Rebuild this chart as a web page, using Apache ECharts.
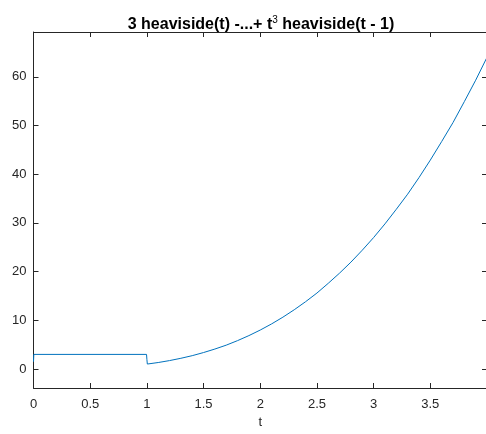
<!DOCTYPE html>
<html>
<head>
<meta charset="utf-8">
<script src="https://cdn.jsdelivr.net/npm/echarts@6/dist/echarts.min.js"></script>
<style>html,body{margin:0;padding:0;background:#fff;overflow:hidden;width:486px;height:434px}#c{width:490px;height:434px}</style>
</head>
<body>
<div id="c"></div>
<script>
var tValues = [0, 0.003, 0.997, 1.0, 1.004, 1.1, 1.2, 1.3, 1.4, 1.5, 1.6, 1.7, 1.8, 1.9, 2.0, 2.1, 2.2, 2.3, 2.4, 2.5, 2.6, 2.7, 2.8, 2.9, 3.0, 3.1, 3.2, 3.3, 3.4, 3.5, 3.6, 3.7, 3.8, 3.9, 4.0];
var fValues = [1.5, 3, 3, 2, 1.02, 1.33, 1.73, 2.2, 2.74, 3.38, 4.1, 4.9, 5.83, 6.86, 8, 9.26, 10.65, 12.17, 13.82, 15.6, 17.6, 19.7, 21.95, 24.4, 27, 29.8, 32.8, 35.9, 39.3, 42.9, 46.7, 50.6, 54.9, 59.3, 64];
var xTickLabels = ['0', '0.5', '1', '1.5', '2', '2.5', '3', '3.5'];
var yTickLabels = ['0', '10', '20', '30', '40', '50', '60'];

var data = tValues.map(function (t, i) { return [t, fValues[i]]; });
var axisColor = '#262626';
var font = 'Liberation Sans, Arial, Helvetica, sans-serif';
var yTicks = [0, 10, 20, 30, 40, 50, 60];

var chart = echarts.init(document.getElementById('c'));
chart.setOption({
  animation: false,
  title: {
    text: '3 heaviside(t) -...+ t{sup|3} heaviside(t - 1)',
    left: 256, top: 10, textAlign: 'center',
    textStyle: {
      fontFamily: font, fontSize: 16, fontWeight: 'bold', color: '#000',
      rich: { sup: { fontFamily: font, fontSize: 10, fontWeight: 'normal', color: '#000', verticalAlign: 'top', padding: [0, 0, 9, 0] } }
    }
  },
  grid: { left: 33.5, top: 32, right: 0.3, bottom: 42, containLabel: false },
  xAxis: [{
    type: 'value', min: 0, max: 4, interval: 0.5, position: 'bottom',
    name: 't', nameLocation: 'middle', nameGap: 28,
    nameTextStyle: { fontFamily: font, fontSize: 13, color: axisColor },
    axisLine: { show: true, onZero: false, lineStyle: { color: axisColor, width: 1 } },
    axisTick: { show: true, inside: true, length: 5, lineStyle: { color: axisColor } },
    axisLabel: { margin: 10, fontFamily: font, fontSize: 13, color: axisColor,
      formatter: function (v) { var i = Math.round(v / 0.5); return i < xTickLabels.length ? xTickLabels[i] : ''; } },
    splitLine: { show: false }
  }, {
    type: 'value', min: 0, max: 4, interval: 0.5, position: 'top',
    axisLine: { show: true, onZero: false, lineStyle: { color: axisColor, width: 1 } },
    axisTick: { show: true, inside: true, length: 5, lineStyle: { color: axisColor } },
    axisLabel: { show: false }, splitLine: { show: false }
  }],
  yAxis: [{
    type: 'value', min: -3.9, max: 69.2, position: 'left',
    axisLine: { show: true, onZero: false, lineStyle: { color: axisColor, width: 1 } },
    axisTick: { show: true, inside: true, length: 5, lineStyle: { color: axisColor }, customValues: yTicks },
    axisLabel: { margin: 7, fontFamily: font, fontSize: 13, color: axisColor,
      customValues: yTicks,
      formatter: function (v) { var i = Math.round(v / 10); return yTickLabels[i] || ''; } },
    splitLine: { show: false }
  }, {
    type: 'value', min: -3.9, max: 69.2, position: 'right',
    axisLine: { show: true, onZero: false, lineStyle: { color: axisColor, width: 1 } },
    axisTick: { show: true, inside: true, length: 5, lineStyle: { color: axisColor }, customValues: yTicks },
    axisLabel: { show: false }, splitLine: { show: false }
  }],
  series: [{
    type: 'line', data: data, xAxisIndex: 0, yAxisIndex: 0,
    showSymbol: false, smooth: false,
    lineStyle: { color: '#0072BD', width: 1 }
  }]
});
</script>
</body>
</html>
